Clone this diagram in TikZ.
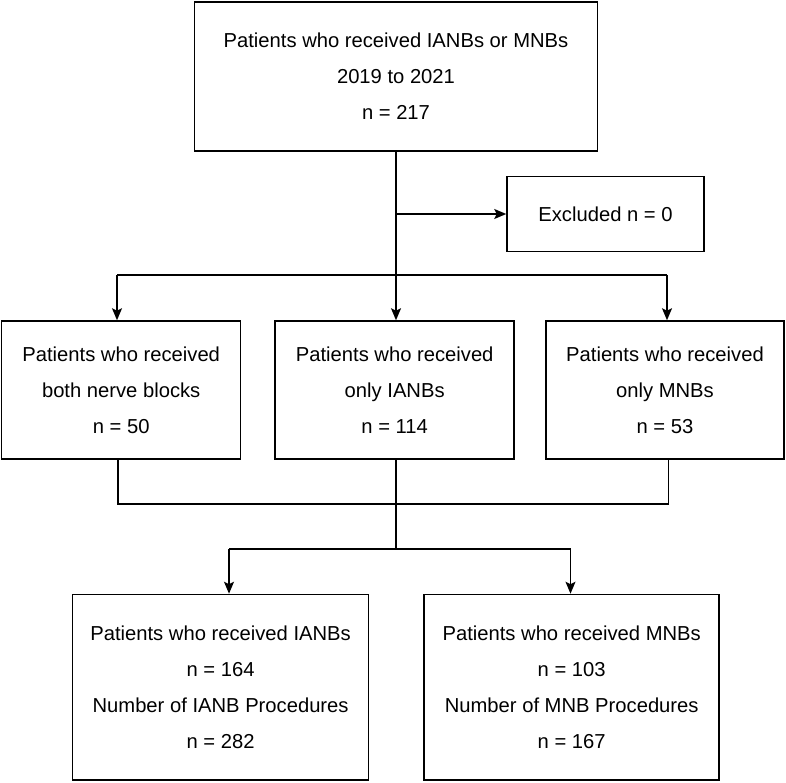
\documentclass[tikz,border=0pt]{standalone}
\usepackage{fontspec}
\setmainfont{Liberation Sans}
\usetikzlibrary{arrows.meta,calc}
\tikzset{
  flowbox/.style={draw=black, line width=1.5pt, fill=white, rectangle, inner sep=0pt, align=center,
    font=\fontsize{20.2}{36}\selectfont, text=black},
  conn/.style={draw=black, line width=1.5pt},
  arr/.style={conn, -{Stealth[length=12pt,width=10pt,inset=2.5pt]}}
}
\begin{document}
\begin{tikzpicture}[x=1pt,y=-1pt]
\useasboundingbox (0,0) rectangle (786,783);
\node[flowbox, minimum width=403pt, minimum height=149pt] (top) at (396,76.5)
  {Patients who received IANBs or MNBs\\2019 to 2021\\n = 217};
\node[flowbox, minimum width=197pt, minimum height=75pt] (excl) at (605.5,214)
  {Excluded n = 0};
\node[flowbox, minimum width=239pt, minimum height=138pt] (m1) at (121.2,390)
  {Patients who received\\both nerve blocks\\n = 50};
\node[flowbox, minimum width=239pt, minimum height=138pt] (m2) at (394.7,390)
  {Patients who received\\only IANBs\\n = 114};
\node[flowbox, minimum width=238pt, minimum height=138pt] (m3) at (665,390)
  {Patients who received\\only MNBs\\n = 53};
\node[flowbox, minimum width=296pt, minimum height=185.5pt] (b1) at (220.6,687.2)
  {Patients who received IANBs\\n = 164\\Number of IANB Procedures\\n = 282};
\node[flowbox, minimum width=295pt, minimum height=185.5pt] (b2) at (571.7,687.2)
  {Patients who received MNBs\\n = 103\\Number of MNB Procedures\\n = 167};

% split from top
\coordinate (s1) at (117,275);
\coordinate (s3) at (667,275);
\draw[arr] (top.south) -- (top.south |- m2.north);
\draw[arr] (top.south |- excl.west) -- (excl.west);
\draw[conn] (s1) -- (s3);
\draw[arr] (s1) -- (s1 |- m1.north);
\draw[arr] (s3) -- (s3 |- m3.north);

% join
\coordinate (d1) at (118,504);
\coordinate (d3) at (668.5,504);
\coordinate (j) at (396,504);
\coordinate (k) at (396,549);
\coordinate (k1) at (229,549);
\coordinate (k2) at (570.5,549);
\draw[conn] (d1 |- m1.south) -- (d1) -- (d3) -- (d3 |- m3.south);
\draw[conn] (j |- m2.south) -- (j) -- (k);
\draw[conn] (k1) -- (k2);
\draw[arr] (k1) -- (k1 |- b1.north);
\draw[arr] (k2) -- (k2 |- b2.north);
\end{tikzpicture}
\end{document}
